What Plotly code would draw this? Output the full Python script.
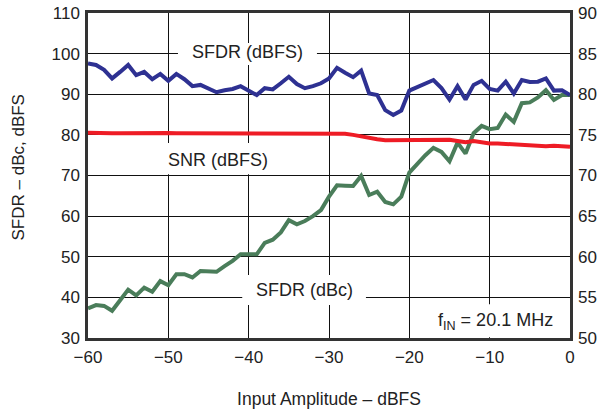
import plotly.graph_objects as go

x_dbfs = list(range(-60, 1))

sfdr_dbfs = [97.6, 97.2, 96.0, 93.9, 95.5, 97.2, 94.7, 95.5, 93.7, 95.0,
             93.3, 95.0, 93.7, 92.0, 92.3, 91.5, 90.5, 91.0, 91.3, 92.0,
             91.0, 89.8, 91.5, 91.2, 92.7, 94.3, 92.5, 91.5, 92.0, 92.7,
             93.9, 96.5, 95.3, 94.2, 95.8, 90.2, 89.8, 86.1, 84.9, 86.0,
             90.9, 91.7, 92.6, 93.5, 91.5, 88.7, 92.0, 88.7, 92.3, 93.3,
             91.3, 90.9, 93.1, 90.2, 93.5, 93.0, 93.1, 93.9, 90.9, 91.0,
             89.8]

sfdr_dbc = [37.3, 38.1, 37.9, 36.7, 39.3, 41.9, 40.5, 42.4, 41.4, 44.0,
            43.0, 45.7, 45.7, 44.9, 46.5, 46.4, 46.3, 47.7, 49.0, 50.6,
            50.6, 50.6, 53.4, 54.2, 56.0, 59.0, 58.0, 58.8, 60.0, 61.5,
            64.8, 67.6, 67.5, 67.4, 69.9, 65.2, 66.0, 63.5, 62.9, 64.8,
            70.7, 73.0, 75.0, 76.8, 75.8, 73.5, 78.1, 75.4, 80.4, 82.2,
            81.4, 81.7, 85.0, 83.2, 87.8, 88.0, 89.2, 91.0, 88.6, 89.8,
            89.8]

snr_dbfs = [75.25, 75.2, 75.2, 75.2, 75.2, 75.22, 75.2, 75.22, 75.2, 75.2,
            75.22, 75.2, 75.2, 75.2, 75.2, 75.2, 75.2, 75.2, 75.2, 75.2,
            75.2, 75.22, 75.2, 75.2, 75.2, 75.2, 75.2, 75.2, 75.2, 75.2,
            75.2, 75.18, 75.15, 75.0, 74.8, 74.6, 74.45, 74.35, 74.35, 74.4,
            74.4, 74.4, 74.4, 74.4, 74.4, 74.4, 74.25, 74.1, 74.25, 74.1,
            73.95, 73.95, 73.9, 73.75, 73.75, 73.75, 73.7, 73.6, 73.65, 73.55,
            73.55]

x_ticks = [-60, -50, -40, -30, -20, -10, 0]
x_ticklabels = ["\u221260", "\u221250", "\u221240", "\u221230", "\u221220", "\u221210", "0"]
yl_ticks = [30, 40, 50, 60, 70, 80, 90, 100, 110]
yr_ticks = [50, 55, 60, 65, 70, 75, 80, 85, 90]

FONT = "Liberation Sans, Arial, sans-serif"
BLUE = "#2E3192"
RED = "#EE1C25"
GREEN = "#4A7D5A"
TXT = "#222222"

fig = go.Figure()
fig.add_trace(go.Scatter(x=x_dbfs, y=snr_dbfs, yaxis="y2", mode="lines",
                         line=dict(color=RED, width=4), hoverinfo="skip"))
fig.add_trace(go.Scatter(x=x_dbfs, y=sfdr_dbc, mode="lines",
                         line=dict(color=GREEN, width=4), hoverinfo="skip"))
fig.add_trace(go.Scatter(x=x_dbfs, y=sfdr_dbfs, mode="lines",
                         line=dict(color=BLUE, width=4), hoverinfo="skip"))

boxes = [(-48.8, -31.5, 97.2, 102.6),
         (-51.0, -36.1, 70.3, 78.0),
         (-40.8, -25.4, 38.1, 45.5),
         (-17.4, -1.0, 30.2, 38.3)]
for x0, x1, y0, y1 in boxes:
    fig.add_shape(type="rect", xref="x", yref="y", x0=x0, x1=x1, y0=y0, y1=y1,
                  fillcolor="white", line=dict(width=0), layer="between")

labels = [("SFDR (dBFS)", -40.2, 100.4),
          ("SNR (dBFS)", -43.8, 73.8),
          ("SFDR (dBc)", -33.1, 41.8),
          ("f<sub>IN</sub> = 20.1 MHz", -9.3, 34.1)]
for txt, ax, ay in labels:
    fig.add_annotation(x=ax, y=ay, xref="x", yref="y", text=txt, showarrow=False,
                       font=dict(family=FONT, size=18, color=TXT),
                       xanchor="center", yanchor="middle")

# left axis title (sits slightly above the axis centre in the reference)
fig.add_annotation(x=-0.145, y=0.525, xref="paper", yref="paper",
                   text="SFDR \u2013 dBc, dBFS", textangle=-90, showarrow=False,
                   font=dict(family=FONT, size=17, color=TXT),
                   xanchor="center", yanchor="middle")

fig.update_layout(
    width=604, height=410,
    margin=dict(l=88, r=34, t=13, b=72),
    paper_bgcolor="white", plot_bgcolor="white",
    showlegend=False,
    font=dict(family=FONT, size=17, color=TXT),
    xaxis=dict(range=[-60, 0], tickvals=x_ticks, ticktext=x_ticklabels,
               automargin=False, tickfont=dict(size=17),
               showgrid=True, gridcolor="#111111", gridwidth=1,
               showline=True, linecolor="#333333", linewidth=2.5, mirror=True,
               ticks="", zeroline=False, ticklabelstandoff=2,
               title=dict(text="Input Amplitude \u2013 dBFS", standoff=27,
                          font=dict(family=FONT, size=17.5))),
    yaxis=dict(range=[30, 110], tickvals=yl_ticks, automargin=False,
               tickfont=dict(size=17), ticklabelstandoff=2,
               showgrid=True, gridcolor="#111111", gridwidth=1,
               showline=True, linecolor="#333333", linewidth=2.5, mirror=True,
               ticks="", zeroline=False),
    yaxis2=dict(range=[50, 90], tickvals=yr_ticks, overlaying="y", side="right",
                automargin=False, tickfont=dict(size=17), ticklabelstandoff=7,
                showgrid=False, showline=False, ticks="", zeroline=False),
)

fig.write_html("out.html", config={"displayModeBar": False},
               post_script="document.body.style.margin='0';")
